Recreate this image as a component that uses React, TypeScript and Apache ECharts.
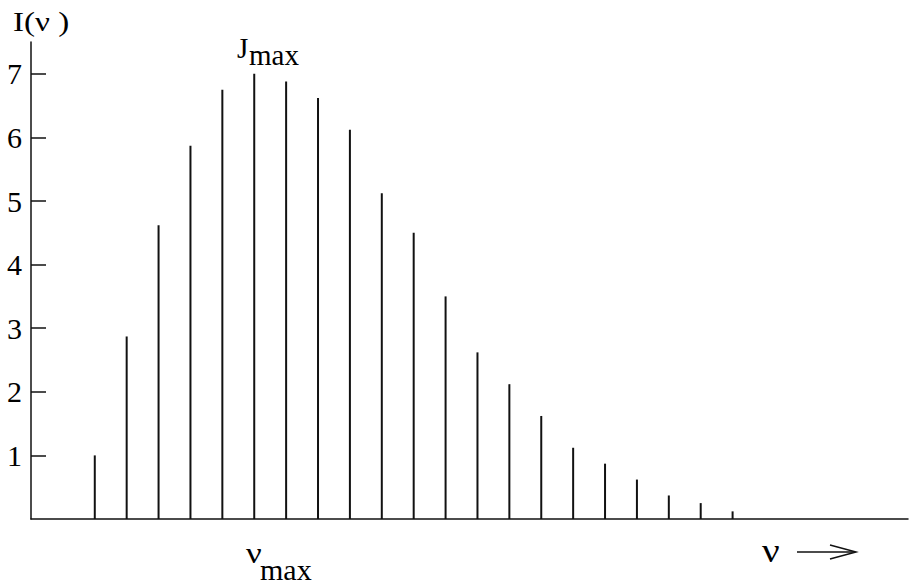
import React, { useEffect, useRef } from "react";
import * as echarts from "echarts";

// Rotational line positions (arbitrary frequency units along the ν axis)
const linePositions = [2, 3, 4, 5, 6, 7, 8, 9, 10, 11, 12, 13, 14, 15, 16, 17, 18, 19, 20, 21, 22];
// Line intensities I(ν)
const intensities = [1.0, 2.87, 4.62, 5.87, 6.75, 7.0, 6.88, 6.62, 6.12, 5.12, 4.5, 3.5, 2.62, 2.12, 1.62, 1.12, 0.87, 0.62, 0.37, 0.25, 0.12];
// Y tick labels
const yTicks = [1, 2, 3, 4, 5, 6, 7];

const FONT = "'Liberation Serif', 'Times New Roman', serif";
const INK = "#111";

export default function App() {
  const ref = useRef<HTMLDivElement>(null);
  useEffect(() => {
    if (!ref.current) return;
    const chart = echarts.init(ref.current, undefined, { renderer: "svg" });
    const data = linePositions.map((x, i) => [x, intensities[i]]);
    chart.setOption({
      animation: false,
      backgroundColor: "#fff",
      grid: { left: 31, right: 4, top: 42, bottom: 65 },
      xAxis: {
        type: "value",
        min: 0,
        max: 27.5,
        axisLine: { show: true, lineStyle: { color: INK, width: 1.5 } },
        axisTick: { show: false },
        axisLabel: { show: false },
        splitLine: { show: false },
      },
      yAxis: {
        type: "value",
        min: 0,
        max: 7.5,
        interval: 1,
        axisLine: { show: true, lineStyle: { color: INK, width: 1.5 } },
        axisTick: {
          show: true,
          inside: true,
          length: 15,
          customValues: yTicks,
          lineStyle: { color: INK, width: 1.5 },
        },
        axisLabel: {
          show: true,
          customValues: yTicks,
          margin: 9,
          color: "#000",
          fontFamily: FONT,
          fontSize: 30,
        },
        splitLine: { show: false },
      },
      series: [
        {
          type: "bar",
          data,
          barWidth: 2,
          itemStyle: { color: INK },
          silent: true,
        },
      ],
      graphic: [
        {
          type: "text",
          x: 13,
          y: 22,
          scaleX: 1.18,
          style: { text: "I(ν )", font: `28px ${FONT}`, fill: "#000", verticalAlign: "middle" },
        },
        {
          type: "text",
          x: 237,
          y: 48,
          style: { text: "J", font: `29px ${FONT}`, fill: "#000", verticalAlign: "middle" },
        },
        {
          type: "text",
          x: 249,
          y: 55,
          style: { text: "max", font: `29px ${FONT}`, fill: "#000", verticalAlign: "middle" },
        },
        {
          type: "text",
          x: 246,
          y: 553,
          scaleX: 1.2,
          style: { text: "ν", font: `29px ${FONT}`, fill: "#000", verticalAlign: "middle" },
        },
        {
          type: "text",
          x: 260,
          y: 569,
          style: { text: "max", font: `30px ${FONT}`, fill: "#000", verticalAlign: "middle" },
        },
        {
          type: "text",
          x: 762,
          y: 550,
          scaleX: 1.15,
          style: { text: "ν", font: `34px ${FONT}`, fill: "#000", verticalAlign: "middle" },
        },
        {
          type: "line",
          shape: { x1: 797, y1: 552, x2: 855, y2: 552 },
          style: { stroke: INK, lineWidth: 1.5 },
        },
        {
          type: "polyline",
          shape: { points: [[830, 545], [856, 552], [830, 559]] },
          style: { stroke: INK, lineWidth: 1.5, fill: "none" },
        },
      ],
    });
    return () => chart.dispose();
  }, []);
  return (
    <div
      ref={ref}
      style={{ position: "fixed", left: 0, top: 0, width: 912, height: 584, background: "#fff" }}
    />
  );
}
